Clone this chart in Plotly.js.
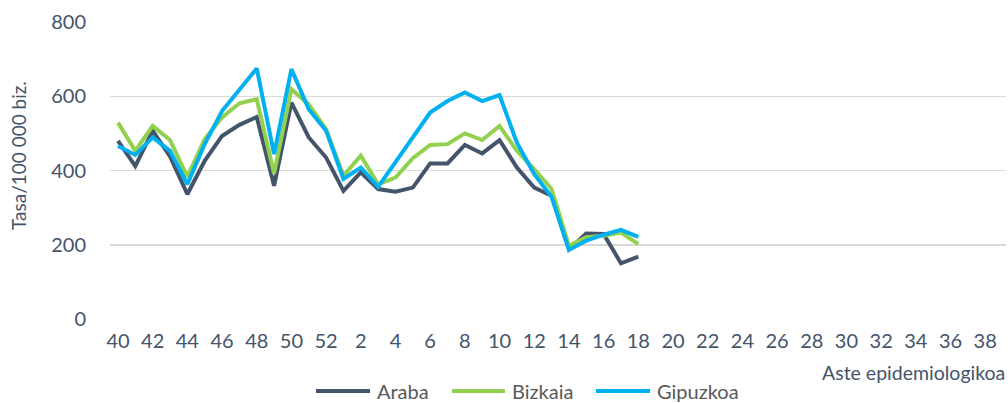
<!DOCTYPE html>
<html>
<head>
<meta charset="utf-8">
<script src="https://cdn.plot.ly/plotly-3.0.1.min.js"></script>
<style>html,body{margin:0;padding:0;background:#fff;}#chart{width:1008px;height:403px;}</style>
</head>
<body>
<div id="chart"></div>
<script>
const weeks = ['40','41','42','43','44','45','46','47','48','49','50','51','52',
  '1','2','3','4','5','6','7','8','9','10','11','12','13','14','15','16','17','18','19','20',
  '21','22','23','24','25','26','27','28','29','30','31','32','33','34','35','36','37','38','39'];
const tickLabels = ['40','42','44','46','48','50','52','2','4','6','8','10','12','14','16','18','20',
  '22','24','26','28','30','32','34','36','38'];
const seriesNames = ['Araba', 'Bizkaia', 'Gipuzkoa'];
const araba = [480,412,507,438,336,426,493,523,544,359,583,489,435,345,395,350,343,354,419,419,469,446,482,408,354,332,188,230,229,150,168];
const bizkaia = [529,453,520,482,383,485,543,581,592,392,619,578,511,386,440,363,381,433,469,471,500,482,520,453,404,350,197,220,224,233,202];
const gipuzkoa = [466,442,489,453,363,471,560,619,675,444,673,565,507,377,408,356,421,489,556,587,610,587,603,475,390,329,186,211,227,240,221];

const colors = ['#44546a', '#92d050', '#00b0f0'];
const values = [araba, bizkaia, gipuzkoa];
const xs = weeks.slice(0, araba.length);
const data = values.map((y, i) => ({x: xs, y: y, name: seriesNames[i], type: 'scatter', mode: 'lines',
  line: {color: colors[i], width: 4}, showlegend: false}));

const fam = 'Lato, "Open Sans", sans-serif';
const tickFont = {family: fam, size: 20, color: '#44546a'};

// custom legend (positions in paper fractions)
const legLines = [[0.2299, 0.2902], [0.3817, 0.4408], [0.5424, 0.6027]];
const legY = -0.2425;
const shapes = legLines.map((p, i) => ({type: 'line', xref: 'paper', yref: 'paper',
  x0: p[0], x1: p[1], y0: legY, y1: legY, line: {color: colors[i], width: 4}}));
const legAnn = legLines.map((p, i) => ({text: seriesNames[i], xref: 'paper', yref: 'paper',
  x: p[1] + 0.0056, xanchor: 'left', y: legY, yanchor: 'middle', showarrow: false,
  font: {family: fam, size: 20, color: '#595959'}}));

const layout = {
  width: 1008, height: 403,
  margin: {l: 110, r: 2, t: 22, b: 84},
  paper_bgcolor: '#fff', plot_bgcolor: '#fff',
  showlegend: false,
  xaxis: {type: 'category', categoryorder: 'array', categoryarray: weeks,
    range: [-0.46, 51.2], tickmode: 'array', tickvals: tickLabels, ticktext: tickLabels,
    showgrid: false, zeroline: false, showline: false, ticks: 'outside', ticklen: 4,
    tickcolor: 'rgba(0,0,0,0)', tickfont: tickFont, fixedrange: true},
  yaxis: {range: [0, 800], tickvals: [0, 200, 400, 600, 800], showgrid: true, gridcolor: '#d9d9d9',
    gridwidth: 1.5, zeroline: false, showline: false, ticks: 'outside', ticklen: 19,
    tickcolor: 'rgba(0,0,0,0)', tickfont: tickFont, fixedrange: true},
  shapes: shapes,
  annotations: [
    {text: 'Aste epidemiologikoa', xref: 'paper', yref: 'paper', x: 1.001, xanchor: 'right',
      y: -0.1818, yanchor: 'middle', showarrow: false, font: {family: fam, size: 19.5, color: '#44546a'}},
    {text: 'Tasa/100 000 biz.', xref: 'paper', yref: 'paper', x: -0.1027, xanchor: 'center',
      y: 0.552, yanchor: 'middle', textangle: -90, showarrow: false, font: {family: fam, size: 19, color: '#44546a'}}
  ].concat(legAnn)
};
Plotly.newPlot('chart', data, layout, {displayModeBar: false, staticPlot: true});
</script>
</body>
</html>
